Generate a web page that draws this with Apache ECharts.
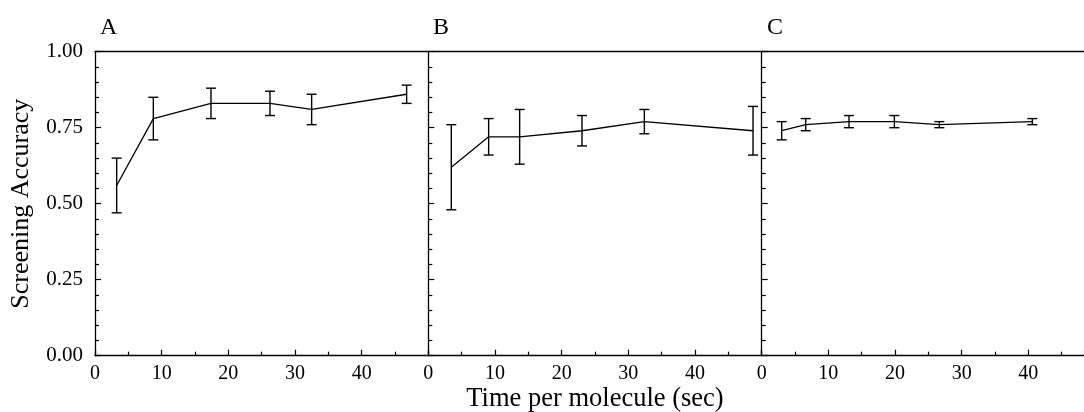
<!DOCTYPE html>
<html>
<head>
<meta charset="utf-8">
<script src="https://cdn.jsdelivr.net/npm/echarts@6/dist/echarts.min.js"></script>
<style>html,body{margin:0;padding:0;background:#fff}#c{width:1084px;height:412px}</style>
</head>
<body>
<div id="c"></div>
<script>
// Panel A
const timeA = [3.25, 8.75, 17.4, 26.25, 32.5, 46.75];
const meanA = [0.56, 0.78, 0.83, 0.83, 0.81, 0.86];
const lowA  = [0.47, 0.71, 0.78, 0.79, 0.76, 0.83];
const highA = [0.65, 0.85, 0.88, 0.87, 0.86, 0.89];
// Panel B
const timeB = [3.45, 9.05, 13.7, 23.05, 32.4, 48.7];
const meanB = [0.62, 0.72, 0.72, 0.74, 0.77, 0.74];
const lowB  = [0.48, 0.66, 0.63, 0.69, 0.73, 0.66];
const highB = [0.76, 0.78, 0.81, 0.79, 0.81, 0.82];
// Panel C
const timeC = [3.0, 6.6, 13.1, 19.9, 26.65, 40.6];
const meanC = [0.74, 0.76, 0.77, 0.77, 0.76, 0.77];
const lowC  = [0.71, 0.74, 0.75, 0.75, 0.75, 0.76];
const highC = [0.77, 0.78, 0.79, 0.79, 0.77, 0.78];

const panelLabels = ['A', 'B', 'C'];
const xTicks = [0, 10, 20, 30, 40];
const yTicks = [0, 0.25, 0.5, 0.75, 1.0];
const yTitle = 'Screening Accuracy';
const xTitle = 'Time per molecule (sec)';

const FONT = '"Liberation Serif", "Times New Roman", serif';
const INK = '#000';

const panels = [
  {t: timeA, m: meanA, lo: lowA, hi: highA, max: 50},
  {t: timeB, m: meanB, lo: lowB, hi: highB, max: 50},
  {t: timeC, m: meanC, lo: lowC, hi: highC, max: 48.35}
];
const grids = [
  {left: 95, top: 51.7, width: 333.3, height: 304},
  {left: 428.3, top: 51.7, width: 333.4, height: 304},
  {left: 761.7, top: 51.7, width: 322.3, height: 304}
];

const xAxes = [], yAxes = [], series = [];
panels.forEach((p, i) => {
  xAxes.push({
    type: 'value', gridIndex: i, min: 0, max: p.max, interval: 10,
    position: 'bottom',
    axisLine: {show: true, onZero: false, lineStyle: {color: INK, width: 1.3}},
    axisTick: {show: true, inside: true, length: 6, lineStyle: {color: INK, width: 1.2}},
    minorTick: {show: true, splitNumber: 2, length: 4, lineStyle: {color: INK, width: 1.2}},
    splitLine: {show: false},
    axisLabel: {color: INK, fontFamily: FONT, fontSize: 20, margin: 8,
      formatter: v => (xTicks.includes(v) ? String(v) : '')},
    name: i === 1 ? xTitle : '', nameLocation: 'middle', nameGap: 30, nameMoveOverlap: false,
    nameTextStyle: {color: INK, fontFamily: FONT, fontSize: 26.5}
  });
  xAxes.push({
    type: 'value', gridIndex: i, min: 0, max: p.max, position: 'top',
    axisLine: {show: true, onZero: false, lineStyle: {color: INK, width: 1.3}},
    axisTick: {show: false}, axisLabel: {show: false}, splitLine: {show: false}
  });
  yAxes.push({
    type: 'value', gridIndex: i, min: 0, max: 1, interval: 0.25,
    axisLine: {show: true, onZero: false, lineStyle: {color: INK, width: 1.3}},
    axisTick: {show: true, inside: true, length: 6, lineStyle: {color: INK, width: 1.2}},
    minorTick: {show: true, splitNumber: 5, length: 4, lineStyle: {color: INK, width: 1.2}},
    splitLine: {show: false},
    axisLabel: {show: i === 0, color: INK, fontFamily: FONT, fontSize: 21, margin: 12,
      formatter: v => yTicks.includes(v) ? v.toFixed(2) : ''},
    name: i === 0 ? yTitle : '', nameLocation: 'middle', nameGap: 61, nameRotate: 90,
    nameMoveOverlap: false,
    nameTextStyle: {color: INK, fontFamily: FONT, fontSize: 26}
  });
  series.push({
    type: 'line', xAxisIndex: i * 2, yAxisIndex: i,
    data: p.t.map((t, k) => [t, p.m[k]]),
    symbol: 'none', lineStyle: {color: INK, width: 1.3}, silent: true, animation: false
  });
  series.push({
    type: 'custom', xAxisIndex: i * 2, yAxisIndex: i,
    data: p.t.map((t, k) => [t, p.lo[k], p.hi[k]]),
    encode: {x: 0, y: [1, 2]},
    animation: false, silent: true,
    renderItem: (params, api) => {
      const x = api.value(0);
      const a = api.coord([x, api.value(2)]);
      const b = api.coord([x, api.value(1)]);
      const w = 5;
      const st = {stroke: INK, lineWidth: 1.4};
      return {type: 'group', children: [
        {type: 'line', shape: {x1: a[0], y1: a[1], x2: b[0], y2: b[1]}, style: st},
        {type: 'line', shape: {x1: a[0] - w, y1: a[1], x2: a[0] + w, y2: a[1]}, style: st},
        {type: 'line', shape: {x1: b[0] - w, y1: b[1], x2: b[0] + w, y2: b[1]}, style: st}
      ]};
    }
  });
});

const titlePos = [100, 433, 767];
const chart = echarts.init(document.getElementById('c'), null, {renderer: 'canvas'});
chart.setOption({
  backgroundColor: '#fff',
  animation: false,
  title: panelLabels.map((s, i) => ({
    text: s, left: titlePos[i], top: 16, padding: 0,
    textStyle: {color: INK, fontFamily: FONT, fontSize: 24, fontWeight: 'normal'}
  })),
  grid: grids.map(g => Object.assign({containLabel: false, outerBoundsMode: 'none'}, g)),
  xAxis: xAxes,
  yAxis: yAxes,
  series: series
});
</script>
</body>
</html>
